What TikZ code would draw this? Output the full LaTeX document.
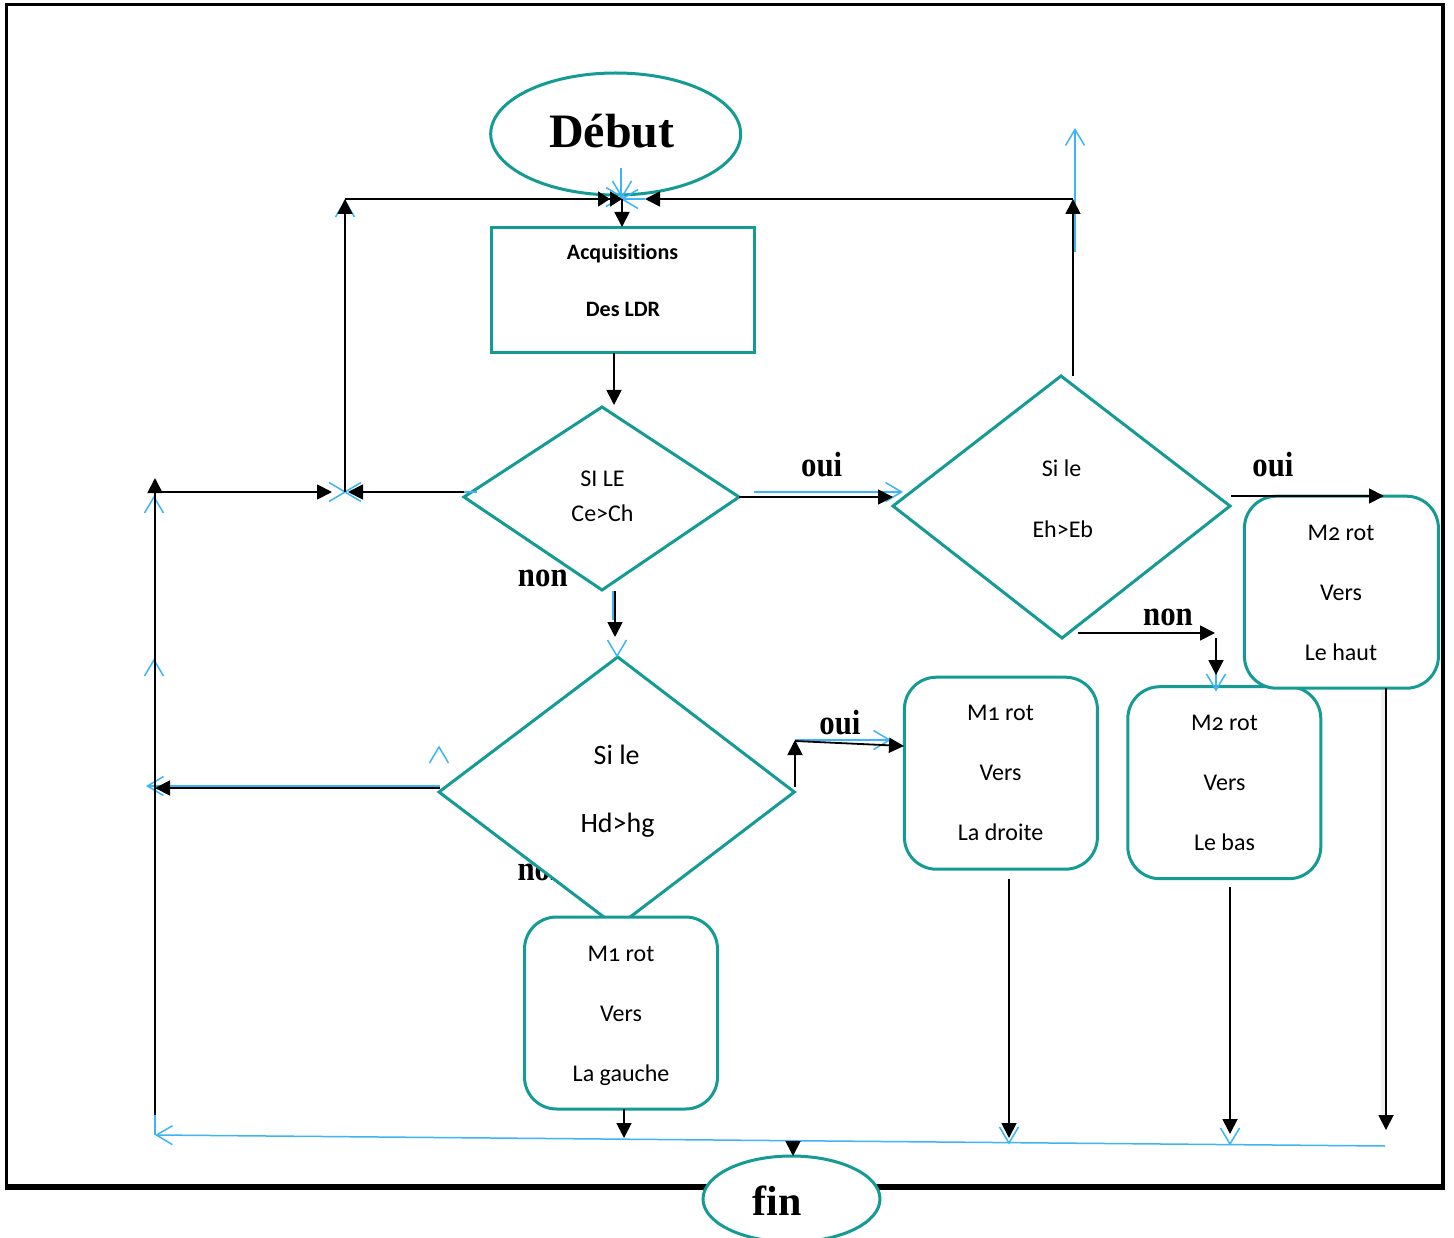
\documentclass[tikz,border=0pt]{standalone}
\usepackage{fontspec}
\setmainfont{Carlito}[Numbers=OldStyle,Ligatures=NoCommon]
\newfontfamily\lblfont{Liberation Serif}[FakeStretch=0.88]
\newfontfamily\ttlfont{Liberation Serif}
\usetikzlibrary{arrows.meta,shapes.geometric}
\definecolor{tealc}{RGB}{20,155,148}
\definecolor{bluec}{RGB}{60,180,245}
\tikzset{
  shp/.style={draw=tealc, line width=3pt, fill=white, inner sep=0pt, outer sep=0pt},
  rbox/.style={shp, rectangle, rounded corners=32pt, minimum width=193pt, minimum height=192pt},
  conn/.style={draw=black, line width=1.8pt},
  atip/.style={-{Triangle[length=15pt,width=15pt]}},
  dtip/.style={-{Triangle[length=12pt,width=15pt]Triangle[length=12pt,width=15pt]}},
  bluel/.style={draw=bluec, line width=1.5pt},
  btip/.style={-{Straight Barb[length=16pt,width=19pt]}},
  barb/.pic={\draw[bluel] (-16,-9.5) -- (0,0) -- (-16,9.5);},
  txt/.style={anchor=base, inner sep=0pt, font=\fontsize{24}{24}\selectfont},
  dtxt/.style={anchor=base, inner sep=0pt, font=\fontsize{24}{24}\selectfont},
  btxt/.style={anchor=base, inner sep=0pt, font=\fontsize{22}{22}\selectfont\bfseries},
  lbl/.style={anchor=base, inner sep=0pt, font=\lblfont\fontsize{35}{35}\selectfont\bfseries},
}
\begin{document}
\begin{tikzpicture}[x=1pt,y=-1pt]
\useasboundingbox (0,0) rectangle (1454,1238);
\clip (0,0) rectangle (1454,1238);
\fill[white] (0,0) rectangle (1454,1238);
% frame
\draw[line width=3pt] (5,4.8) -- (1443,4.8);
\draw[line width=3pt] (6.5,4) -- (6.5,1187);
\draw[line width=4pt] (1443,3) -- (1443,1187);
\draw[line width=6pt] (5,1187) -- (1445,1187);
% label hidden partly by diamond
\node[lbl, anchor=base west] (non3) at (517.3,880.7) {non};
% shapes
\node[shp, ellipse, minimum width=250pt, minimum height=122pt] (debut) at (615.7,134) {};
\node[shp, rectangle, minimum width=263pt, minimum height=125pt] (acq) at (622.5,290.3) {};
\coordinate (d1l) at (464,497); \coordinate (d1t) at (602,407);
\coordinate (d1r) at (739,497); \coordinate (d1b) at (602,590);
\draw[shp] (d1l) -- (d1t) -- (d1r) -- (d1b) -- cycle;
\coordinate (d2l) at (893,506); \coordinate (d2t) at (1061,376);
\coordinate (d2r) at (1230,506); \coordinate (d2b) at (1062,638);
\draw[shp] (d2l) -- (d2t) -- (d2r) -- (d2b) -- cycle;
\coordinate (d3l) at (439,792); \coordinate (d3t) at (617.7,657);
\coordinate (d3r) at (794.3,792); \coordinate (d3b) at (617,927);
\draw[shp] (d3l) -- (d3t) -- (d3r) -- (d3b) -- cycle;
\node[rbox] (m1g) at (621,1013) {};
\node[rbox] (m1d) at (1000.9,773.2) {};
\node[rbox] (m2b) at (1224.3,782.7) {};
\node[rbox, minimum width=194pt] (m2h) at (1341.4,592.2) {};
\node[shp, ellipse, minimum width=177pt, minimum height=86pt] (fin) at (791.5,1199) {};
% coordinates for connectors
\coordinate (ltop) at (345,199);
\coordinate (lmid) at (345,492);
\coordinate (topc) at (622,199);
\coordinate (topcr) at (645,199);
\coordinate (rtop) at (1073,199);
\coordinate (rbot) at (1073,376);
\coordinate (acqin) at (622,227);
\coordinate (acqout) at (614,352.7);
\coordinate (d1in) at (614,405);
\coordinate (d1lo) at (464,492);
\coordinate (lmidr) at (348,492);
\coordinate (lmidl) at (332,492);
\coordinate (farl) at (155,492);
\coordinate (fartip) at (155,478);
\coordinate (farbot) at (155,1115);
\coordinate (farend) at (155,1135);
\coordinate (d2in) at (893,497);
\coordinate (d1ro) at (739,497);
\coordinate (d1bo) at (615,591);
\coordinate (d3in) at (615,637);
\coordinate (d2ro) at (1231,496);
\coordinate (m2hin) at (1384,496);
\coordinate (d2bo) at (1078,633);
\coordinate (nonc) at (1215,633);
\coordinate (nonv) at (1216,638);
\coordinate (m2bin) at (1216,675);
\coordinate (d3ro) at (795,787);
\coordinate (d3up) at (795,740);
\coordinate (d3upb) at (795,741);
\coordinate (m1din) at (904,746);
\coordinate (d3lo) at (440,788);
\coordinate (farmid) at (155,788);
\coordinate (m1go) at (624,1109);
\coordinate (m1gend) at (624,1138);
\coordinate (finst) at (793,1141);
\coordinate (finin) at (793,1156);
\coordinate (m1do) at (1009,879);
\coordinate (m1dend) at (1009,1138);
\coordinate (m2bo) at (1230,887);
\coordinate (m2bend) at (1230,1134);
\coordinate (m2ho) at (1386,688);
\coordinate (m2hend) at (1386,1130);
\coordinate (blr) at (1385,1146);
% blue traces
\draw[bluel, btip] (blr) -- (farend);
\draw[bluel] (farbot) -- (farend);
\draw[bluel, btip] (1075,252) -- (1075,128);
\draw[bluel] (345,199) -- (357,199);
\pic[rotate=90] at (345,201) {barb};
\draw[bluel] (621,168) -- (621,197);
\pic[rotate=-90] at (622,197) {barb};
\pic at (622,197) {barb};
\draw[bluel] (622,199) -- (645,199);
\pic[rotate=180] at (622,199) {barb};
\pic[rotate=90] at (154,497) {barb};
\pic[rotate=90] at (154,660) {barb};
\pic at (345,492) {barb};
\pic[rotate=180] at (345,492) {barb};
\draw[bluel] (464,492) -- (477,492);
\draw[bluel, btip] (754,492) -- (903,492);
\draw[bluel] (613,591) -- (613,620);
\pic[rotate=-90] at (617,656) {barb};
\draw[bluel] (1216,673) -- (1216,690);
\pic[rotate=-90] at (1216,690) {barb};
\draw[bluel, btip] (440,786) -- (146,786);
\pic[rotate=90] at (439,747) {barb};
\draw[bluel, btip] (795,740) -- (891,740);
\pic[rotate=-90] at (1009,1143) {barb};
\pic[rotate=-90] at (1230,1144) {barb};
% black connectors
\draw[conn, atip] (lmid) -- (ltop);
\draw[conn, dtip] (ltop) -- (topc);
\draw[conn, atip] (rbot) -- (rtop);
\draw[conn, atip] (rtop) -- (topcr);
\draw[conn, atip] (topc) -- (acqin);
\draw[conn, atip] (acqout) -- (d1in);
\draw[conn, atip] (d1lo) -- (lmidr);
\draw[conn, atip] (farl) -- (lmidl);
\draw[conn, atip] (farbot) -- (fartip);
\draw[conn, atip] (d1ro) -- (d2in);
\draw[conn, atip] (d1bo) -- (d3in);
\draw[conn, atip] (d2ro) -- (m2hin);
\draw[conn, atip] (d2bo) -- (nonc);
\draw[conn, atip] (nonv) -- (m2bin);
\draw[conn, atip] (d3ro) -- (d3up);
\draw[conn, atip] (d3upb) -- (m1din);
\draw[conn, atip] (d3lo) -- (farmid);
\draw[conn, atip] (m1go) -- (m1gend);
\draw[conn, atip] (finst) -- (finin);
\draw[conn, atip] (m1do) -- (m1dend);
\draw[conn, atip] (m2bo) -- (m2bend);
\draw[gray!12, line width=5pt] (1383,690) -- (1383,1125);
\draw[conn, atip] (m2ho) -- (m2hend);
% texts
\node[anchor=base, inner sep=0pt, font=\ttlfont\fontsize{48}{48}\selectfont\bfseries] (tdebut) at (612,147.3) {Début};
\node[btxt] (tacq1) at (622.5,260) {Acquisitions};
\node[btxt] (tacq2) at (623,316.7) {Des LDR};
\node[dtxt] (td1a) at (602.5,486.7) {SI LE};
\node[dtxt] (td1b) at (602.5,521.7) {Ce>Ch};
\node[dtxt] (td2a) at (1061.6,476) {Si le};
\node[dtxt] (td2b) at (1062.8,537.7) {Eh>Eb};
\node[dtxt, font=\fontsize{28}{28}\selectfont] (td3a) at (616.7,764) {Si le};
\node[dtxt, font=\fontsize{28}{28}\selectfont] (td3b) at (617.5,832.7) {Hd>hg};
\node[txt] (g1) at (621,961) {M1 rot};
\node[txt] (g2) at (621,1021) {Vers};
\node[txt] (g3) at (621,1081) {La gauche};
\node[txt] (r1) at (1000.5,720) {M1 rot};
\node[txt] (r2) at (1000.5,780) {Vers};
\node[txt] (r3) at (1000.5,840) {La droite};
\node[txt] (b1) at (1224.5,730) {M2 rot};
\node[txt] (b2) at (1224.5,790) {Vers};
\node[txt] (b3) at (1224.5,850) {Le bas};
\node[txt] (h1) at (1341,540) {M2 rot};
\node[txt] (h2) at (1341,600.7) {Vers};
\node[txt] (h3) at (1341,660.7) {Le haut};
\node[lbl] (oui1) at (821.7,476) {oui};
\node[lbl] (oui2) at (1273,476) {oui};
\node[lbl] (oui3) at (840,734) {oui};
\node[lbl] (non1) at (542.8,586.7) {non};
\node[lbl] (non2) at (1168,625) {non};
\node[anchor=base, inner sep=0pt, font=\ttlfont\fontsize{42}{42}\selectfont\bfseries] (tfin) at (777.4,1215) {fin};
\end{tikzpicture}
\end{document}
